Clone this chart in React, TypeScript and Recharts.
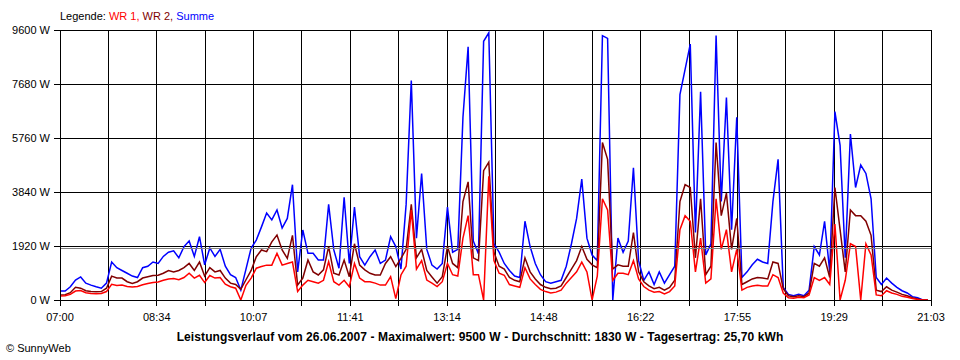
import { LineChart, Line, XAxis, YAxis, CartesianGrid, ReferenceLine } from "recharts";

const TIME_LABELS = ["07:00", "08:34", "10:07", "11:41", "13:14", "14:48", "16:22", "17:55", "19:29", "21:03"];
const WATT_TICKS = [0, 1920, 3840, 5760, 7680, 9600];
const AVERAGE_W = 1830;
const STEP_MIN = 5; // one reading every 5 minutes from 07:00
const DAY_SPAN_MIN = 843; // 07:00 .. 21:03

// Summe (blue)
const SUMME = [
  320, 320, 470, 710, 820, 600, 530, 470, 420, 600,
  1350, 1150, 1050, 950, 850, 800, 1150, 1200, 1350, 1300,
  1550, 1700, 1750, 1500, 1900, 2100, 1550, 2250, 1250, 1850,
  1550, 1800, 1200, 900, 800, 350, 1100, 1850, 2130, 2600,
  3090, 2850, 3200, 2560, 2900, 4100, 1000, 2490, 1660, 1660,
  1420, 1420, 3400, 1780, 1130, 3650, 1300, 3300, 1540, 1240,
  1540, 1780, 1300, 1420, 2250, 1900, 1100, 3400, 7800, 2200,
  4500, 1800, 1240, 1100, 1300, 3300, 1700, 1800, 6500, 9000,
  2100, 1650, 9200, 9500, 2000, 1700, 1300, 1050, 850, 800,
  2800, 1900, 1300, 900, 650, 600, 650, 700, 1200, 2000,
  2900, 4300, 2200, 1600, 1400, 9400, 9300, 0, 2200, 1700,
  2100, 4700, 1400, 700, 1000, 550, 1000, 600, 900, 1200,
  7300, 8200, 9100, 2400, 7400, 1600, 2000, 9400, 3500, 7200,
  2500, 6500, 800, 1000, 1250, 1450, 1350, 1300, 3500, 5000,
  450, 200, 150, 200, 150, 350, 1900, 1600, 2800, 1000,
  6700, 5500, 1500, 5900, 4000, 4800, 4500, 3600, 800, 550,
  780, 600, 450, 330, 250, 120, 80, 0, 0,
];

// WR 2 (dark red)
const WR2 = [
  180, 190, 260, 450, 420, 330, 300, 290, 300, 420,
  850, 780, 780, 650, 590, 650, 780, 830, 870, 880,
  950, 1050, 1000, 1050, 1150, 1300, 1050, 1350, 850, 1150,
  1000, 1050, 780, 600, 550, 380, 720, 1050, 1540, 1780,
  1720, 2070, 2310, 1780, 1480, 2300, 530, 780, 1420, 1000,
  890, 1070, 1900, 950, 890, 1420, 830, 2000, 1240, 1070,
  950, 890, 890, 1300, 1540, 1190, 1480, 1800, 3400, 1500,
  1800, 1050, 820, 600, 830, 1900, 1300, 1150, 3500, 4200,
  1500, 1400, 4600, 4900, 1700, 1200, 1100, 800, 700, 650,
  1500, 1000, 750, 550, 450, 400, 420, 500, 800, 1100,
  1400, 1900, 1450, 1250, 1150, 5600, 5000, 1100, 1250, 1200,
  1200, 2400, 1000, 650, 500, 400, 450, 350, 450, 700,
  3500, 4100, 4000, 1500, 3600, 900, 1200, 5600, 3000, 3800,
  1800, 2900, 550, 650, 750, 800, 780, 750, 1350, 1300,
  400, 150, 120, 150, 120, 250, 1300, 1200, 1500, 800,
  4000, 2500, 1000, 3200, 3000, 3000, 2800, 2300, 350, 300,
  470, 350, 280, 200, 150, 80, 40, 0, 0,
];

// WR 1 (red)
const WR1 = [
  140, 150, 200, 320, 340, 260, 230, 220, 230, 300,
  560, 520, 530, 480, 460, 480, 540, 590, 620, 640,
  700, 750, 760, 720, 800, 950, 780, 880, 620, 870,
  780, 800, 560, 470, 420, 0, 520, 780, 1130, 1190,
  1240, 1240, 1660, 1240, 1300, 1350, 300, 530, 700, 650,
  600, 700, 1360, 650, 530, 700, 470, 1300, 780, 650,
  650, 600, 530, 530, 830, 50, 890, 1200, 3200, 1100,
  1400, 710, 600, 475, 650, 1300, 900, 850, 2200, 3000,
  900, 900, 0, 4400, 1400, 950, 880, 550, 500, 450,
  1150, 750, 550, 380, 300, 250, 280, 350, 600, 800,
  1000, 1350, 1000, 0, 850, 3600, 3200, 700, 950, 950,
  900, 1400, 750, 480, 350, 280, 300, 220, 300, 500,
  2500, 3000, 2800, 1000, 2200, 600, 750, 3600, 1800, 2500,
  1000, 1800, 350, 450, 500, 520, 500, 500, 900, 800,
  250, 80, 60, 100, 80, 180, 800, 700, 800, 550,
  2700, 0, 700, 2000, 1900, 0, 2000, 1600, 180, 150,
  330, 250, 200, 130, 100, 50, 20, 0, 0,
];

const rows = SUMME.map((summe, i) => ({ t: i * STEP_MIN, summe, wr2: WR2[i], wr1: WR1[i] }));

// grid every half label step, labels on every second line
const xTicks = Array.from({ length: 19 }, (_, i) => (i * DAY_SPAN_MIN) / 18);
const xLabel = (v: number) => {
  const i = Math.round((v * 18) / DAY_SPAN_MIN);
  return i % 2 === 0 ? TIME_LABELS[i / 2] : "";
};

const FONT = "'Liberation Sans', Arial, sans-serif";
const tickStyle = { fill: "#000", fontSize: 11, fontFamily: FONT };

export default function App() {
  return (
    <div style={{ position: "absolute", left: 0, top: 0, width: 960, height: 360, background: "#fff" }}>
      <style>{`.recharts-cartesian-grid line, .recharts-cartesian-axis-tick-line, .recharts-cartesian-axis-line, .recharts-reference-line line { shape-rendering: crispEdges; }`}</style>
      <LineChart width={960} height={360} data={rows} margin={{ top: 30, right: 29, bottom: 30, left: 0 }}>
        <CartesianGrid stroke="#000" />
        <XAxis
          dataKey="t"
          type="number"
          domain={[0, DAY_SPAN_MIN]}
          ticks={xTicks}
          interval={0}
          tickFormatter={xLabel}
          tickSize={6}
          tickMargin={7}
          height={30}
          stroke="#000"
          tick={tickStyle}
          allowDataOverflow
        />
        <YAxis
          type="number"
          domain={[0, 9600]}
          ticks={WATT_TICKS}
          interval={0}
          width={60}
          tickFormatter={(v) => `${v} W`}
          tickSize={6}
          tickMargin={4}
          stroke="#000"
          tick={tickStyle}
          allowDataOverflow
        />
        <Line type="linear" dataKey="summe" stroke="#0000ff" strokeWidth={1.5} dot={false} isAnimationActive={false} />
        <Line type="linear" dataKey="wr2" stroke="#800000" strokeWidth={1.5} dot={false} isAnimationActive={false} />
        <Line type="linear" dataKey="wr1" stroke="#ff0000" strokeWidth={1.5} dot={false} isAnimationActive={false} />
        <ReferenceLine y={AVERAGE_W} stroke="#808080" strokeWidth={1} />
      </LineChart>
      <svg width={960} height={360} style={{ position: "absolute", left: 0, top: 0, pointerEvents: "none" }}>
        <text x={60} y={20} fontSize={11} fontFamily={FONT}>
          <tspan fill="#000">Legende: </tspan>
          <tspan fill="#ff0000">WR 1, </tspan>
          <tspan fill="#800000">WR 2, </tspan>
          <tspan fill="#0000ff">Summe</tspan>
        </text>
        <text x={480} y={341} textAnchor="middle" fontSize={12} letterSpacing={0.1} fontWeight="bold" fontFamily={FONT} fill="#000">
          Leistungsverlauf vom 26.06.2007 - Maximalwert: 9500 W - Durchschnitt: 1830 W - Tagesertrag: 25,70 kWh
        </text>
        <text x={6} y={352} fontSize={11} fontFamily={FONT} fill="#000">
          © SunnyWeb
        </text>
      </svg>
    </div>
  );
}
